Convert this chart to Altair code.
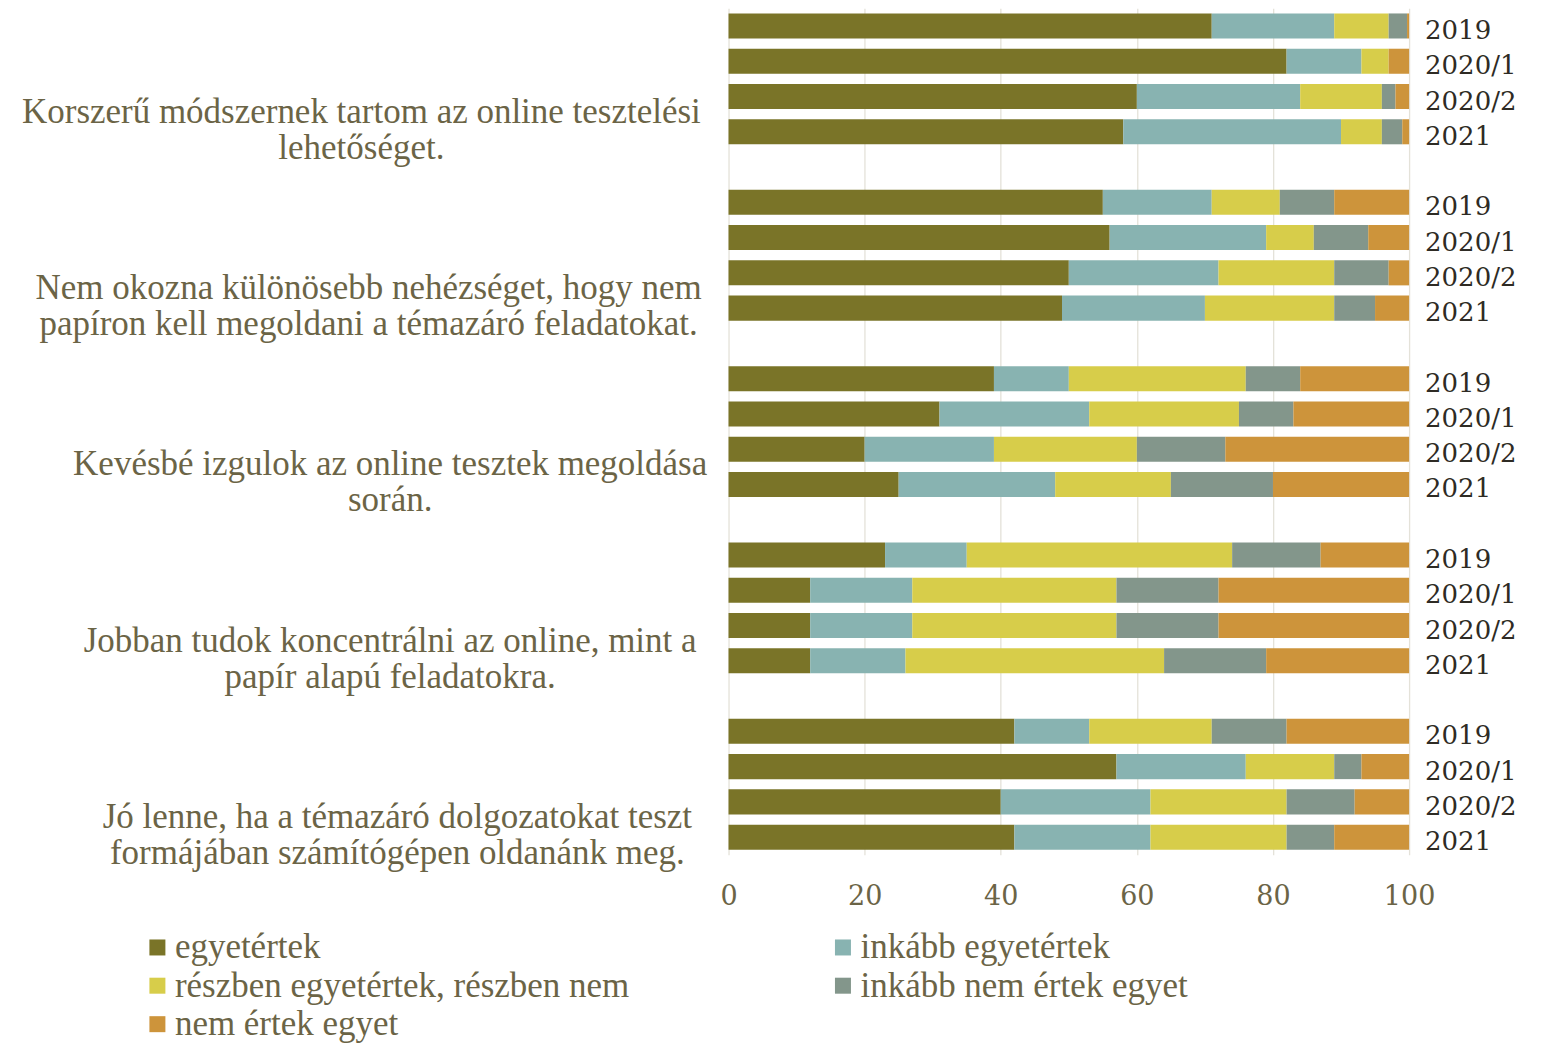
import altair as alt
import pandas as pd

# ---- data ----
group_lines = [
    ["Korszerű módszernek tartom az online tesztelési", "lehetőséget."],
    ["Nem okozna különösebb nehézséget, hogy nem", "papíron kell megoldani a témazáró feladatokat."],
    ["Kevésbé izgulok az online tesztek megoldása", "során."],
    ["Jobban tudok koncentrálni az online, mint a", "papír alapú feladatokra."],
    ["Jó lenne, ha a témazáró dolgozatokat teszt", "formájában számítógépen oldanánk meg."],
]
years = ["2019", "2020/1", "2020/2", "2021"]
categories = [
    "egyetértek",
    "inkább egyetértek",
    "részben egyetértek, részben nem",
    "inkább nem értek egyet",
    "nem értek egyet",
]
colors = ["#7a7428", "#88b3b1", "#d7cd4a", "#83968b", "#cd943b"]

# values per category, group-major (5 groups x 4 years)
egyetertek = [71, 82, 60, 58, 55, 56, 50, 49, 39, 31, 20, 25, 23, 12, 12, 12, 42, 57, 40, 42]
inkabb_egyetertek = [18, 11, 24, 32, 16, 23, 22, 21, 11, 22, 19, 23, 12, 15, 15, 14, 11, 19, 22, 20]
reszben = [8, 4, 12, 6, 10, 7, 17, 19, 26, 22, 21, 17, 39, 30, 30, 38, 18, 13, 20, 20]
inkabb_nem = [2.7, 0, 2, 3, 8, 8, 8, 6, 8, 8, 13, 15, 13, 15, 15, 15, 11, 4, 10, 7]
nem = [0.3, 3, 2, 1, 11, 6, 3, 5, 16, 17, 27, 20, 13, 28, 28, 21, 18, 7, 8, 11]
series = [egyetertek, inkabb_egyetertek, reszben, inkabb_nem, nem]

# ---- build tables ----
slots = []
for gi in range(len(group_lines)):
    slots += [f"{gi}|{y}" for y in years]
    if gi < len(group_lines) - 1:
        slots.append(f"gap{gi}")

rows = []
for ci, (cat, vals) in enumerate(zip(categories, series)):
    for k, v in enumerate(vals):
        gi, yi = divmod(k, len(years))
        rows.append({"slot": f"{gi}|{years[yi]}", "category": cat, "ci": ci, "value": v})
df = pd.DataFrame(rows)

df_years = pd.DataFrame(
    [{"slot": f"{gi}|{y}", "year": y} for gi in range(len(group_lines)) for y in years]
)
df_groups = pd.DataFrame(
    [
        {"slot": f"{gi}|{years[-1]}", "lines": lines, "maxlen": max(len(s) for s in lines)}
        for gi, lines in enumerate(group_lines)
    ]
)

W, H = 681, 847
label_color = "#6b6446"
yscale = alt.Scale(domain=slots, paddingInner=0.29, paddingOuter=0.145)

bars = alt.Chart(df).mark_bar().encode(
    x=alt.X(
        "value:Q",
        stack="zero",
        scale=alt.Scale(domain=[0, 100], nice=False),
        axis=alt.Axis(values=[0, 20, 40, 60, 80, 100], title=None),
    ),
    y=alt.Y("slot:N", scale=yscale, axis=None, sort=slots),
    color=alt.Color(
        "category:N",
        scale=alt.Scale(domain=categories, range=colors),
        legend=alt.Legend(
            title=None,
            orient="none",
            direction="horizontal",
            legendX=-589,
            legendY=922,
            padding=0,
            columns=2,
            columnPadding=196,
            rowPadding=2.5,
            symbolType="square",
            symbolSize=256,
            symbolStrokeWidth=0,
            labelFont="Liberation Serif",
            labelFontSize=35,
            labelColor=label_color,
            labelLimit=1000,
            labelOffset=0,
        ),
    ),
    order=alt.Order("ci:Q"),
)

year_text = alt.Chart(df_years).mark_text(
    align="left", baseline="middle", dx=16, dy=5,
    font="DejaVu Serif", fontSize=26, color="#2e2b24",
).encode(
    x=alt.datum(100),
    y=alt.Y("slot:N", scale=yscale, axis=None, sort=slots),
    text="year:N",
)

group_text = alt.Chart(df_groups).transform_calculate(
    px="-29 - datum.maxlen * 7.2"
).mark_text(
    align="center", baseline="middle", dy=-20, lineHeight=36,
    font="Liberation Serif", fontSize=35, color=label_color,
).encode(
    x=alt.X("px:Q", scale=None, axis=None),
    y=alt.Y("slot:N", scale=yscale, axis=None, sort=slots),
    text="lines",
)

chart = (
    alt.layer(bars, year_text, group_text)
    .properties(
        width=W,
        height=H,
        autosize=alt.AutoSizeParams(type="none"),
        padding={"left": 721, "top": 0, "right": 130, "bottom": 190},
    )
    .configure_view(stroke=None)
    .configure_axisX(
        grid=True,
        gridColor="#e4e2d9",
        gridWidth=1.3,
        domain=False,
        ticks=False,
        labelFlush=False,
        labelFont="DejaVu Serif",
        labelFontSize=27,
        labelColor=label_color,
        labelPadding=29,
    )
)

chart.save("out.html", embed_options={"renderer": "svg", "actions": False})
